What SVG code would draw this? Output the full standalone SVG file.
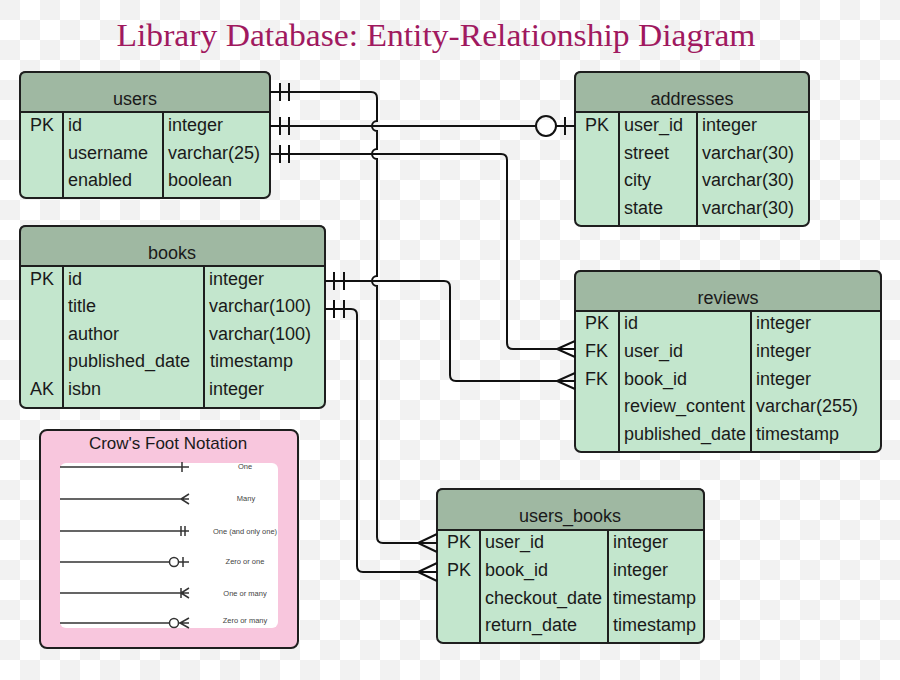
<svg xmlns="http://www.w3.org/2000/svg" width="900" height="680" viewBox="0 0 900 680">
<defs>
<pattern id="chk" x="0" y="0" width="40" height="40" patternUnits="userSpaceOnUse">
<rect width="40" height="40" fill="#ffffff"/>
<rect width="20" height="20" fill="#f2f2f2"/>
<rect x="20" y="20" width="20" height="20" fill="#f2f2f2"/>
</pattern>
<style>
.body{fill:#c3e6cd;stroke:#1e1e1e;stroke-width:2}
.hdr{fill:#9fb8a2;stroke:#1e1e1e;stroke-width:2}
.ln{stroke:#1e1e1e;stroke-width:2;fill:none}
.t{font-family:"Liberation Sans",Arial,sans-serif;font-size:18px;fill:#1a1a1a}
.c{text-anchor:middle}
.con{stroke:#111;stroke-width:2;fill:none}
.lg{stroke:#333;stroke-width:1.5;fill:none}
.lt{font-family:"Liberation Sans",Arial,sans-serif;font-size:7.5px;fill:#444;text-anchor:middle}
</style>
</defs>
<rect width="900" height="680" fill="url(#chk)"/>
<text x="436" y="46" font-family="'Liberation Serif','Times New Roman',serif" font-size="31" fill="#a0195f" text-anchor="middle" textLength="639" lengthAdjust="spacingAndGlyphs">Library Database: Entity-Relationship Diagram</text>

<g id="users">
<rect class="body" x="20" y="72" width="250" height="126" rx="6"/>
<path class="hdr" d="M20,112 V78 Q20,72 26,72 H264 Q270,72 270,78 V112 Z"/>
<path class="ln" d="M63,112 V198 M163,112 V198"/>
<text class="t c" x="135" y="105">users</text>
<text class="t" x="30" y="131">PK</text><text class="t" x="68" y="131">id</text><text class="t" x="168" y="131">integer</text>
<text class="t" x="68" y="159">username</text><text class="t" x="168" y="159">varchar(25)</text>
<text class="t" x="68" y="186">enabled</text><text class="t" x="168" y="186">boolean</text>
</g>

<g id="addresses">
<rect class="body" x="575" y="72" width="234" height="154" rx="6"/>
<path class="hdr" d="M575,112 V78 Q575,72 581,72 H803 Q809,72 809,78 V112 Z"/>
<path class="ln" d="M619,112 V226 M697,112 V226"/>
<text class="t c" x="692" y="105">addresses</text>
<text class="t" x="585" y="131">PK</text><text class="t" x="624" y="131">user_id</text><text class="t" x="702" y="131">integer</text>
<text class="t" x="624" y="159">street</text><text class="t" x="702" y="159">varchar(30)</text>
<text class="t" x="624" y="186">city</text><text class="t" x="702" y="186">varchar(30)</text>
<text class="t" x="624" y="214">state</text><text class="t" x="702" y="214">varchar(30)</text>
</g>

<g id="books">
<rect class="body" x="20" y="226" width="305" height="182" rx="6"/>
<path class="hdr" d="M20,266 V232 Q20,226 26,226 H319 Q325,226 325,232 V266 Z"/>
<path class="ln" d="M63,266 V408 M204,266 V408"/>
<text class="t c" x="172" y="259">books</text>
<text class="t" x="30" y="285">PK</text><text class="t" x="68" y="285">id</text><text class="t" x="209" y="285">integer</text>
<text class="t" x="68" y="312">title</text><text class="t" x="209" y="312">varchar(100)</text>
<text class="t" x="68" y="340">author</text><text class="t" x="209" y="340">varchar(100)</text>
<text class="t" x="68" y="367">published_date</text><text class="t" x="210" y="367">timestamp</text>
<text class="t" x="30" y="395">AK</text><text class="t" x="68" y="395">isbn</text><text class="t" x="209" y="395">integer</text>
</g>

<g id="reviews">
<rect class="body" x="575" y="271" width="306" height="181" rx="6"/>
<path class="hdr" d="M575,311 V277 Q575,271 581,271 H875 Q881,271 881,277 V311 Z"/>
<path class="ln" d="M619,311 V452 M751,311 V452"/>
<text class="t c" x="728" y="304">reviews</text>
<text class="t" x="585" y="329">PK</text><text class="t" x="624" y="329">id</text><text class="t" x="756" y="329">integer</text>
<text class="t" x="585" y="357">FK</text><text class="t" x="624" y="357">user_id</text><text class="t" x="756" y="357">integer</text>
<text class="t" x="585" y="385">FK</text><text class="t" x="624" y="385">book_id</text><text class="t" x="756" y="385">integer</text>
<text class="t" x="624" y="412">review_content</text><text class="t" x="756" y="412">varchar(255)</text>
<text class="t" x="624" y="440">published_date</text><text class="t" x="756" y="440">timestamp</text>
</g>

<g id="users_books">
<rect class="body" x="437" y="489" width="267" height="154" rx="6"/>
<path class="hdr" d="M437,530 V495 Q437,489 443,489 H698 Q704,489 704,495 V530 Z"/>
<path class="ln" d="M480,530 V643 M608,530 V643"/>
<text class="t c" x="570" y="522">users_books</text>
<text class="t" x="447" y="548">PK</text><text class="t" x="485" y="548">user_id</text><text class="t" x="613" y="548">integer</text>
<text class="t" x="447" y="576">PK</text><text class="t" x="485" y="576">book_id</text><text class="t" x="613" y="576">integer</text>
<text class="t" x="485" y="604">checkout_date</text><text class="t" x="613" y="604">timestamp</text>
<text class="t" x="485" y="631">return_date</text><text class="t" x="613" y="631">timestamp</text>
</g>

<g id="connectors">
<path class="con" d="M270,92 H371 Q377,92 377,98 V121 A5,5 0 0 0 377,131 V149 A5,5 0 0 0 377,159 V276 A5,5 0 0 0 377,286 V537 Q377,543 383,543 H437"/>
<path class="con" d="M280,83 V101 M289,83 V101"/>
<path class="con" d="M437,534 L418,543 L437,552"/>
<path class="con" d="M270,126 H536 M556,126 H575"/>
<circle class="con" cx="546" cy="126" r="10"/>
<path class="con" d="M565,117 V135"/>
<path class="con" d="M280,117 V135 M289,117 V135"/>
<path class="con" d="M270,154 H501 Q507,154 507,160 V343 Q507,349 513,349 H575"/>
<path class="con" d="M280,145 V163 M289,145 V163"/>
<path class="con" d="M575,341 L557,349 L575,357"/>
<path class="con" d="M325,281 H444 Q450,281 450,287 V375 Q450,381 456,381 H575"/>
<path class="con" d="M334,272 V290 M344,272 V290"/>
<path class="con" d="M575,373 L557,381 L575,389"/>
<path class="con" d="M325,309 H351 Q357,309 357,315 V566 Q357,572 363,572 H437"/>
<path class="con" d="M334,300 V318 M344,300 V318"/>
<path class="con" d="M437,563 L418,572 L437,581"/>
</g>

<g id="legend">
<rect x="40" y="430" width="258" height="218" rx="7" fill="#f8c6dd" stroke="#1e1e1e" stroke-width="2"/>
<rect x="60" y="463" width="218" height="165" rx="6" fill="#ffffff"/>
<text x="168" y="449" font-family="'Liberation Sans',Arial,sans-serif" font-size="17" fill="#1a1a1a" text-anchor="middle">Crow's Foot Notation</text>
<path class="lg" d="M60,467 H189 M182,462 V472"/>
<path class="lg" d="M60,499 H189 M189,494 L181,499 L189,504"/>
<path class="lg" d="M60,531 H189 M181,526 V536 M185,526 V536"/>
<path class="lg" d="M60,562 H170 M178,562 H189 M183,557 V567"/>
<circle class="lg" cx="174" cy="562" r="4.5"/>
<path class="lg" d="M60,593 H189 M181,588 V598 M189,588 L181,593 L189,598"/>
<path class="lg" d="M60,623 H170 M178,623 H189 M189,618 L180,623 L189,628"/>
<circle class="lg" cx="174" cy="623" r="4.5"/>
<text class="lt" x="245" y="469">One</text>
<text class="lt" x="246" y="501">Many</text>
<text class="lt" x="245" y="534">One (and only one)</text>
<text class="lt" x="245" y="564">Zero or one</text>
<text class="lt" x="245" y="596">One or many</text>
<text class="lt" x="245" y="623">Zero or many</text>
</g>
</svg>
